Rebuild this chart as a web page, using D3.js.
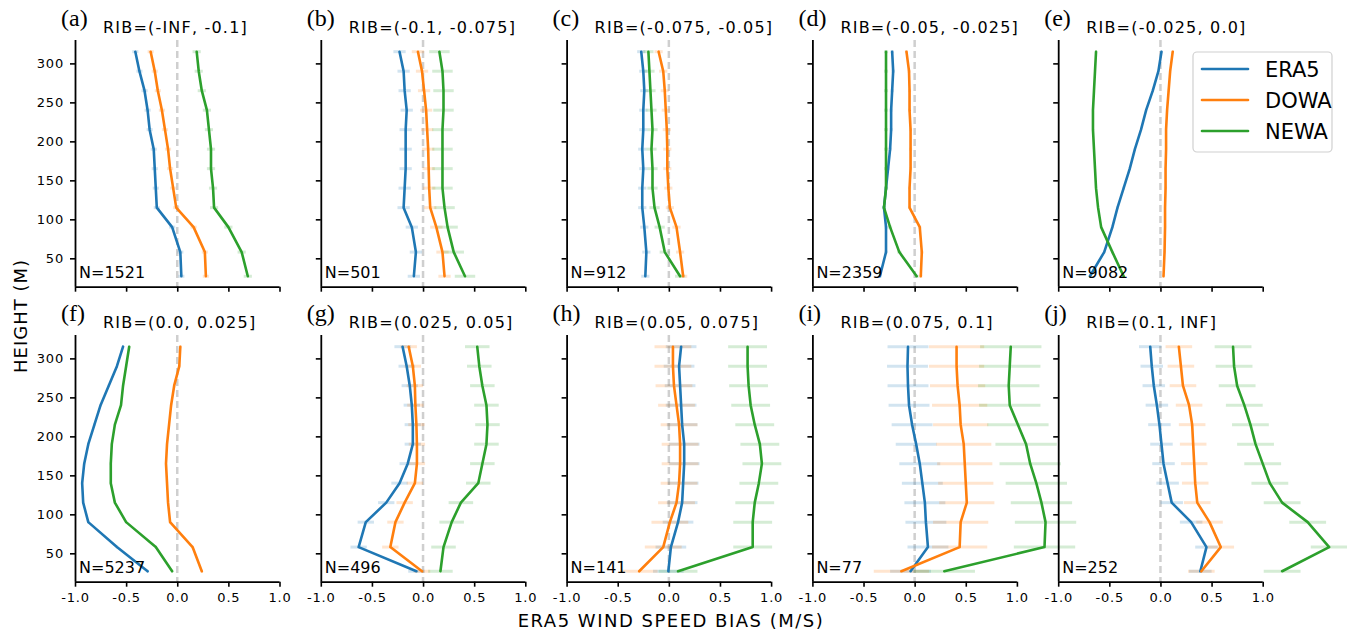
<!DOCTYPE html>
<html>
<head>
<meta charset="utf-8">
<script src="https://cdn.jsdelivr.net/npm/d3@7"></script>
<style>
  body { margin: 0; background: #fff; }
  svg { display: block; }
  text { font-family: "DejaVu Sans", sans-serif; fill: #000; }
</style>
</head>
<body>
<svg id="chart" width="1347" height="631"></svg>
<script>
// ---- data ----
const heights = [27, 58, 90, 115, 140, 165, 190, 215, 240, 265, 290, 315];
const panelLetters = ["(a)", "(b)", "(c)", "(d)", "(e)", "(f)", "(g)", "(h)", "(i)", "(j)"];
const panelTitles = ["RIB=(-INF, -0.1]", "RIB=(-0.1, -0.075]", "RIB=(-0.075, -0.05]", "RIB=(-0.05, -0.025]", "RIB=(-0.025, 0.0]",
                     "RIB=(0.0, 0.025]", "RIB=(0.025, 0.05]", "RIB=(0.05, 0.075]", "RIB=(0.075, 0.1]", "RIB=(0.1, INF]"];
const sampleCounts = [1521, 501, 912, 2359, 9082, 5237, 496, 141, 77, 252];
const seriesNames = ["ERA5", "DOWA", "NEWA"];
const xTicks = [-1.0, -0.5, 0.0, 0.5, 1.0];
const xTickLabels = ["-1.0", "-0.5", "0.0", "0.5", "1.0"];
const yTicks = [50, 100, 150, 200, 250, 300];

const era5Bias = [
  [0.04, 0.03, -0.05, -0.2, -0.21, -0.22, -0.23, -0.27, -0.29, -0.32, -0.37, -0.41],
  [-0.09, -0.07, -0.11, -0.19, -0.18, -0.17, -0.17, -0.17, -0.16, -0.18, -0.19, -0.23],
  [-0.23, -0.22, -0.24, -0.26, -0.26, -0.25, -0.26, -0.25, -0.25, -0.24, -0.25, -0.27],
  [-0.34, -0.28, -0.28, -0.30, -0.28, -0.26, -0.24, -0.23, -0.23, -0.22, -0.21, -0.22],
  [-0.69, -0.55, -0.47, -0.42, -0.36, -0.30, -0.25, -0.19, -0.14, -0.075, -0.02, 0.01],
  [-0.29, -0.59, -0.87, -0.92, -0.93, -0.91, -0.87, -0.81, -0.75, -0.67, -0.59, -0.53],
  [-0.065, -0.63, -0.56, -0.36, -0.23, -0.15, -0.10, -0.10, -0.11, -0.13, -0.16, -0.20],
  [-0.005, 0.02, 0.09, 0.13, 0.14, 0.15, 0.15, 0.13, 0.12, 0.11, 0.10, 0.12],
  [-0.04, 0.13, 0.11, 0.10, 0.075, 0.05, 0.015, -0.025, -0.055, -0.065, -0.07, -0.065],
  [0.39, 0.45, 0.30, 0.11, 0.07, 0.03, 0.01, -0.01, -0.035, -0.065, -0.085, -0.10]
];
const dowaBias = [
  [0.28, 0.27, 0.16, -0.01, -0.04, -0.07, -0.09, -0.12, -0.15, -0.19, -0.22, -0.26],
  [0.21, 0.19, 0.13, 0.07, 0.06, 0.055, 0.05, 0.04, 0.03, 0.01, -0.01, -0.05],
  [0.14, 0.11, 0.075, 0.01, -0.005, -0.015, -0.015, -0.02, -0.03, -0.04, -0.055, -0.10],
  [0.06, 0.07, 0.05, -0.05, -0.05, -0.04, -0.04, -0.04, -0.05, -0.05, -0.055, -0.08],
  [0.03, 0.04, 0.045, 0.045, 0.05, 0.05, 0.055, 0.055, 0.065, 0.08, 0.095, 0.12],
  [0.24, 0.15, -0.07, -0.09, -0.10, -0.11, -0.10, -0.08, -0.06, -0.03, 0.02, 0.03],
  [-0.01, -0.32, -0.27, -0.18, -0.08, -0.06, -0.06, -0.065, -0.075, -0.08, -0.10, -0.14],
  [-0.29, -0.055, 0.01, 0.075, 0.10, 0.11, 0.11, 0.10, 0.075, 0.05, 0.04, 0.04],
  [-0.13, 0.44, 0.45, 0.51, 0.50, 0.49, 0.48, 0.45, 0.44, 0.42, 0.41, 0.41],
  [0.40, 0.59, 0.48, 0.36, 0.34, 0.33, 0.32, 0.31, 0.28, 0.22, 0.20, 0.18]
];
const newaBias = [
  [0.69, 0.63, 0.5, 0.36, 0.35, 0.33, 0.33, 0.31, 0.29, 0.24, 0.21, 0.19],
  [0.41, 0.3, 0.24, 0.21, 0.19, 0.19, 0.19, 0.19, 0.2, 0.2, 0.19, 0.16],
  [0.11, -0.04, -0.09, -0.14, -0.16, -0.16, -0.17, -0.16, -0.17, -0.18, -0.19, -0.2],
  [0.02, -0.15, -0.24, -0.30, -0.28, -0.28, -0.28, -0.28, -0.28, -0.28, -0.28, -0.28],
  [-0.36, -0.47, -0.58, -0.61, -0.63, -0.64, -0.65, -0.66, -0.66, -0.65, -0.64, -0.63],
  [-0.05, -0.21, -0.5, -0.61, -0.65, -0.65, -0.64, -0.61, -0.55, -0.53, -0.5, -0.47],
  [0.17, 0.2, 0.28, 0.37, 0.54, 0.58, 0.62, 0.63, 0.62, 0.58, 0.55, 0.53],
  [0.09, 0.82, 0.82, 0.84, 0.88, 0.91, 0.89, 0.84, 0.80, 0.78, 0.77, 0.77],
  [0.29, 1.27, 1.28, 1.24, 1.19, 1.13, 1.09, 1.01, 0.93, 0.92, 0.93, 0.94],
  [1.19, 1.65, 1.44, 1.19, 1.07, 1.0, 0.93, 0.88, 0.82, 0.75, 0.72, 0.71]
];
// half-width of the faint error bars, one value per panel
const era5Err = [0.03, 0.06, 0.04, 0.015, 0.01, 0.01, 0.08, 0.15, 0.2, 0.11];
const dowaErr = [0.03, 0.06, 0.04, 0.015, 0.01, 0.01, 0.08, 0.18, 0.27, 0.13];
const newaErr = [0.04, 0.1, 0.05, 0.02, 0.01, 0.01, 0.12, 0.19, 0.3, 0.18];

const colors = ["#1f77b4", "#ff7f0e", "#2ca02c"];

// ---- layout ----
const svg = d3.select("#chart");
const panelW = 204.5;
const panelLeft0 = 75, panelStep = 245.8;
const rowTop = [40, 335], rowH = 246.7;
const fontHand = "'DejaVu Sans', sans-serif";

const allSeries = [era5Bias, dowaBias, newaBias];
const allErr = [era5Err, dowaErr, newaErr];

for (let p = 0; p < 10; p++) {
  const row = Math.floor(p / 5), col = p % 5;
  const left = panelLeft0 + col * panelStep;
  const top = rowTop[row];
  const x = d3.scaleLinear().domain([-1, 1]).range([left, left + panelW]);
  const y = d3.scaleLinear().domain([13.6, 330]).range([top + rowH, top]);
  const g = svg.append("g");

  // zero line
  g.append("line")
    .attr("x1", x(0)).attr("x2", x(0)).attr("y1", y(330)).attr("y2", y(13.6))
    .attr("stroke", "#cfcfcf").attr("stroke-width", 2.5).attr("stroke-dasharray", "7,4");

  // error bars
  allSeries.forEach((s, si) => {
    const e = allErr[si][p];
    g.append("g").selectAll("line").data(heights).join("line")
      .attr("x1", (h, i) => x(s[p][i] - e)).attr("x2", (h, i) => x(s[p][i] + e))
      .attr("y1", h => y(h)).attr("y2", h => y(h))
      .attr("stroke", colors[si]).attr("stroke-opacity", 0.2).attr("stroke-width", 3);
  });

  // lines
  allSeries.forEach((s, si) => {
    const line = d3.line().x(d => x(d[0])).y(d => y(d[1]));
    g.append("path")
      .datum(s[p].map((v, i) => [v, heights[i]]))
      .attr("d", line).attr("fill", "none")
      .attr("stroke", colors[si]).attr("stroke-width", 2.6)
      .attr("stroke-linejoin", "round").attr("stroke-linecap", "round");
  });

  // axes
  const xa = g.append("g").attr("transform", `translate(0,${top + rowH})`)
    .call(d3.axisBottom(x).tickValues(xTicks).tickSize(5).tickPadding(6)
      .tickFormat((d, i) => row === 1 ? xTickLabels[i] : ""));
  const ya = g.append("g").attr("transform", `translate(${left},0)`)
    .call(d3.axisLeft(y).tickValues(yTicks).tickSize(5).tickPadding(6)
      .tickFormat(col === 0 ? d3.format("d") : () => ""));
  [xa, ya].forEach(a => {
    a.select(".domain").attr("stroke", "#000").attr("stroke-width", 1.8);
    a.selectAll(".tick line").attr("stroke", "#000").attr("stroke-width", 1.6);
    a.selectAll("text").style("font-family", fontHand).style("font-size", "13px")
      .style("letter-spacing", "0.8px").attr("fill", "#000");
  });
  xa.select(".domain").attr("d", `M${left},0.5H${left + panelW}`);
  ya.select(".domain").attr("d", `M0.5,${top + rowH}V${top}`);

  // titles
  g.append("text").attr("x", left - 14).attr("y", top - 14)
    .style("font-family", "'Liberation Serif', serif").style("font-size", "24px").text(panelLetters[p]);
  g.append("text").attr("x", left + 28).attr("y", top - 7)
    .style("font-family", fontHand).style("font-size", "16px")
    .style("letter-spacing", "1.2px")
    .text(panelTitles[p]);
  g.append("text").attr("x", left + 4).attr("y", top + rowH - 9)
    .style("font-family", fontHand).style("font-size", "16px").text("N=" + sampleCounts[p]);
}

// legend
const lg = svg.append("g");
lg.append("rect").attr("x", 1193).attr("y", 52).attr("width", 139).attr("height", 100)
  .attr("rx", 4).attr("fill", "#fff").attr("fill-opacity", 0.85)
  .attr("stroke", "#d0d0d0").attr("stroke-width", 1.2);
seriesNames.forEach((n, i) => {
  const yy = 69 + i * 31;
  lg.append("line").attr("x1", 1202).attr("x2", 1248).attr("y1", yy).attr("y2", yy)
    .attr("stroke", colors[i]).attr("stroke-width", 2.6).attr("stroke-linecap", "round");
  lg.append("text").attr("x", 1265).attr("y", yy + 8)
    .style("font-family", fontHand).style("font-size", "21px").text(n);
});

// axis labels
svg.append("text").attr("x", 671).attr("y", 627).attr("text-anchor", "middle")
  .style("font-family", fontHand).style("font-size", "18px").style("letter-spacing", "1.5px")
  .text("ERA5 WIND SPEED BIAS (M/S)");
svg.append("text").attr("transform", "translate(27,316) rotate(-90)").attr("text-anchor", "middle")
  .style("font-family", fontHand).style("font-size", "18px").style("letter-spacing", "1px")
  .text("HEIGHT (M)");
</script>
</body>
</html>
